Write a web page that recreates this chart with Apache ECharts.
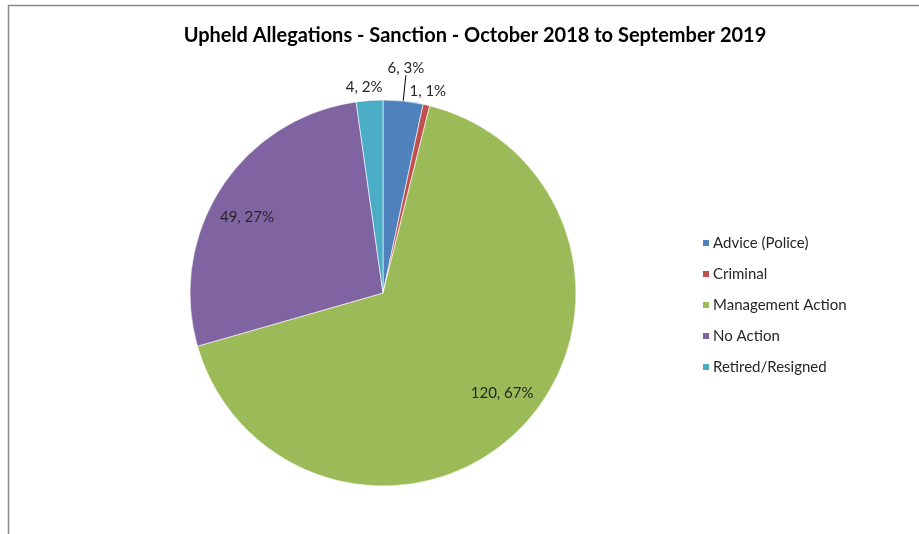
<!DOCTYPE html>
<html>
<head>
<meta charset="utf-8">
<script src="https://cdn.jsdelivr.net/npm/echarts@6/dist/echarts.min.js"></script>
<style>html,body{margin:0;padding:0;background:#fff}#c{width:919px;height:534px}</style>
</head>
<body>
<div id="c"></div>
<script>
const titleText = 'Upheld Allegations - Sanction - October 2018 to September 2019';
const categories = ['Advice (Police)', 'Criminal', 'Management Action', 'No Action', 'Retired/Resigned'];
const values = [6, 1, 120, 49, 4];
const colors = ['#4F81BD', '#C0504D', '#9BBB59', '#8064A2', '#4BACC6'];
const insideLabel = [false, false, true, true, false];

const total = values.reduce((a, b) => a + b, 0);
function fmt(p) { return p.value + ', ' + Math.round(p.value / total * 100) + '%'; }

const FONT = 'Lato';
const outerLen = [26, 6, 0, 0, 6];
const labelGap = [0, 0, 0, 0, 5];
const mainData = categories.map((n, i) => ({
  name: n, value: values[i],
  itemStyle: { color: colors[i] },
  label: { show: !insideLabel[i], distanceToLabelLine: labelGap[i] },
  labelLine: { show: i === 0, length: outerLen[i], length2: 0 }
}));
const overlayData = categories.map((n, i) => ({
  name: n, value: values[i],
  label: { show: insideLabel[i] }
}));

const chart = echarts.init(document.getElementById('c'));
chart.setOption({
  animation: false,
  backgroundColor: '#fff',
  title: {
    text: titleText, left: 470, top: 21, textAlign: 'center',
    textStyle: { fontFamily: FONT, fontSize: 20, fontWeight: 'bold', color: '#000' }
  },
  legend: {
    orient: 'vertical', left: 696, top: 230,
    icon: 'rect', itemWidth: 8, itemHeight: 8, itemGap: 15,
    data: categories,
    textStyle: { fontFamily: FONT, fontSize: 15, color: '#262626', lineHeight: 16, padding: [0, 0, 0, -2] }
  },
  graphic: [{
    type: 'polyline',
    shape: { points: [[919, 5.5], [8.5, 5.5], [8.5, 534]] },
    style: { stroke: '#8a8a8a', lineWidth: 1.5, fill: null },
    silent: true
  }],
  series: [{
    type: 'pie',
    center: [383, 293], radius: [0, 193],
    startAngle: 90, clockwise: true,
    avoidLabelOverlap: false,
    itemStyle: { borderColor: '#fff', borderWidth: 0.6 },
    label: {
      position: 'outside', formatter: fmt,
      fontFamily: FONT, fontSize: 15, color: '#262626'
    },
    labelLine: { lineStyle: { color: '#000', width: 1 }, smooth: false },
    labelLayout: function (p) { return { align: 'center', verticalAlign: 'bottom' }; },
    data: mainData
  }, {
    type: 'pie',
    center: [383, 293], radius: [112, 193],
    startAngle: 94, clockwise: true,
    silent: true,
    avoidLabelOverlap: false,
    itemStyle: { color: 'rgba(0,0,0,0)', borderWidth: 0 },
    label: {
      position: 'inside', formatter: fmt,
      fontFamily: FONT, fontSize: 15, color: '#262626'
    },
    labelLine: { show: false },
    data: overlayData
  }]
});
</script>
</body>
</html>
